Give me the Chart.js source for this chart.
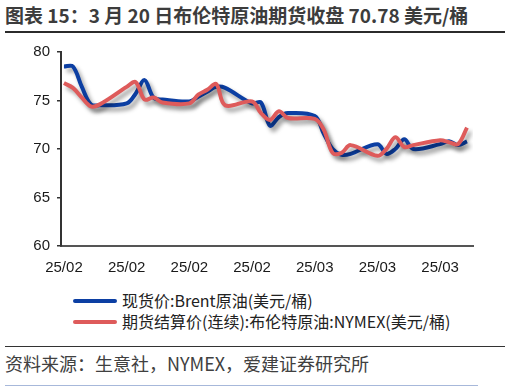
<!DOCTYPE html>
<html>
<head>
<meta charset="utf-8">
<script src="https://cdn.jsdelivr.net/npm/chart.js@4"></script>
<style>
  body { margin: 0; width: 510px; height: 391px; position: relative; background: #fff; overflow: hidden;
         font-family: "Noto Sans CJK SC", "Noto Sans", sans-serif; }
  .title { position: absolute; left: 5px; top: 3px; font-size: 19px; font-weight: bold; color: #3c3c3c; white-space: nowrap; line-height: 24px; }
  .rule { position: absolute; left: 5px; width: 500px; }
  #wrap { position: absolute; left: 0; top: 36px; width: 510px; height: 250px; }
  #legend { position: absolute; left: 73px; top: 290px; font-size: 16px; color: #222; line-height: 21px; }
  #legend .item { display: flex; align-items: center; white-space: nowrap; }
  #legend .swatch { width: 44px; height: 4px; margin-right: 5px; border-radius: 2px; }
  .source { position: absolute; left: 5px; top: 350px; font-size: 18px; color: #404040; white-space: nowrap; line-height: 26px; }
</style>
</head>
<body>
<div class="title">图表 15：3 月 20 日布伦特原油期货收盘 70.78 美元/桶</div>
<div class="rule" style="top:31px;height:2px;background:#2b2b2b"></div>
<div id="wrap"><canvas id="oilChart" width="510" height="250"></canvas></div>
<div id="legend"></div>
<div class="rule" style="top:346px;height:1px;background:#333"></div>
<div class="source">资料来源：生意社，NYMEX，爱建证券研究所</div>
<div class="rule" style="top:385px;height:1px;width:473px;background:#a7b8da"></div>

<script>
// trading days
const fechas = [
  '2025-02-03', '2025-02-04', '2025-02-05', '2025-02-06', '2025-02-07',
  '2025-02-10', '2025-02-11', '2025-02-12', '2025-02-13', '2025-02-14',
  '2025-02-17', '2025-02-18', '2025-02-19', '2025-02-20', '2025-02-21',
  '2025-02-24', '2025-02-25', '2025-02-26', '2025-02-27', '2025-02-28',
  '2025-03-03', '2025-03-04', '2025-03-05', '2025-03-06', '2025-03-07',
  '2025-03-10', '2025-03-11', '2025-03-12', '2025-03-13', '2025-03-14',
  '2025-03-17', '2025-03-18', '2025-03-19', '2025-03-20'
];

const brentSpot = [
  78.5, 78.5, 76.4, 74.6, 74.5,
  74.7, 75.7, 77.1, 75.3, 75.1,
  74.9, 75.4, 75.9, 76.4, 76.3,
  74.7, 74.8, 72.4, 73.3, 73.7,
  73.4, 71.6, 70.0, 69.4, 69.5,
  70.5, 69.5, 70.0, 71.0, 70.0,
  70.5, 70.8, 70.4, 70.78
];

const brentFut = [
  76.8, 76.3, 75.3, 74.4, 74.6,
  76.4, 76.9, 75.1, 75.3, 74.8,
  74.7, 75.6, 76.1, 76.7, 74.5,
  74.9, 73.7, 73.0, 73.9, 73.2,
  73.1, 72.0, 69.6, 69.6, 70.4,
  69.3, 70.0, 71.2, 70.2, 70.4,
  70.9, 70.7, 70.5, 72.2
];

const nombres = ['现货价:Brent原油(美元/桶)', '期货结算价(连续):布伦特原油:NYMEX(美元/桶)'];
const colores = ['#0c3fa3', '#de5b5b'];
const yTicks = [60, 65, 70, 75, 80];
const xTickDays = [0, 7, 14, 21, 28, 35, 42];

const dia0 = Date.parse(fechas[0]);
const dias = fechas.map(f => Math.round((Date.parse(f) - dia0) / 86400000));
const etiqueta = d => {
  const f = new Date(dia0 + d * 86400000);
  return String(f.getUTCFullYear()).slice(2) + '/' + String(f.getUTCMonth() + 1).padStart(2, '0');
};

const sombra = {
  id: 'sombra',
  beforeDatasetDraw(chart) {
    const c = chart.ctx;
    c.save();
    c.shadowColor = 'rgba(0,0,0,0.38)';
    c.shadowBlur = 4;
    c.shadowOffsetX = 3;
    c.shadowOffsetY = 4;
  },
  afterDatasetDraw(chart) { chart.ctx.restore(); }
};

const tickFont = { family: '"Liberation Sans", Arial, sans-serif', size: 15 };

new Chart(document.getElementById('oilChart').getContext('2d'), {
  type: 'line',
  data: {
    datasets: [
      {
        label: nombres[0],
        data: brentSpot.map((v, i) => ({ x: dias[i], y: v })),
        borderColor: colores[0],
        borderWidth: 4,
        pointRadius: 0,
        tension: 0.35,
        order: 1
      },
      {
        label: nombres[1],
        data: brentFut.map((v, i) => ({ x: dias[i], y: v })),
        borderColor: colores[1],
        borderWidth: 4,
        pointRadius: 0,
        tension: 0.35,
        order: 0
      }
    ]
  },
  options: {
    responsive: false,
    animation: false,
    layout: { padding: { top: 13, right: 37, left: 0, bottom: 0 } },
    plugins: {
      legend: { display: false },
      tooltip: { enabled: false }
    },
    scales: {
      x: {
        type: 'linear',
        min: -0.33,
        max: 45.67,
        afterFit: s => { s.height = 40; },
        afterBuildTicks: s => { s.ticks = xTickDays.map(v => ({ value: v })); },
        grid: { drawOnChartArea: false, drawTicks: false },
        border: { display: true, color: '#555', width: 2 },
        ticks: {
          padding: 13,
          color: '#1a1a1a',
          font: tickFont,
          maxRotation: 0,
          autoSkip: false,
          callback: v => etiqueta(v)
        }
      },
      y: {
        min: 60,
        max: 80,
        afterFit: s => { s.width = 61; },
        afterBuildTicks: s => { s.ticks = yTicks.map(v => ({ value: v })); },
        grid: { drawOnChartArea: false, drawTicks: true, tickLength: 4, color: '#333', lineWidth: 1.5 },
        border: { display: true, color: '#333', width: 2 },
        ticks: { padding: 7, color: '#1a1a1a', font: tickFont }
      }
    }
  },
  plugins: [sombra]
});

const leyenda = document.getElementById('legend');
nombres.forEach((n, i) => {
  const row = document.createElement('div');
  row.className = 'item';
  row.innerHTML = '<span class="swatch" style="background:' + colores[i] + '"></span><span>' + n + '</span>';
  leyenda.appendChild(row);
});
</script>
</body>
</html>
